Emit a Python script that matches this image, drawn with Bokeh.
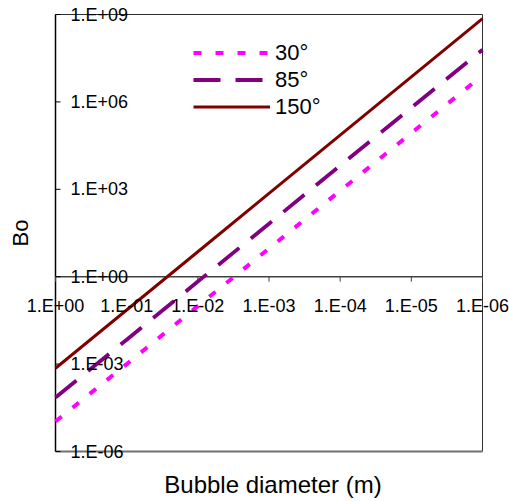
import math
from bokeh.plotting import figure
from bokeh.models import Range1d, Legend, LegendItem
from bokeh.core.properties import value
from bokeh.embed import file_html
from bokeh.resources import INLINE

# ---- data ----
diameter = [1.0, 1e-1, 1e-2, 1e-3, 1e-4, 1e-5, 1e-6]
bo_30 = [1.07e-5, 1.0e-3, 9.8e-2, 9.3, 890, 8.5e4, 8.1e6]
bo_85 = [7.1e-5, 6.9e-3, 0.68, 66, 6.5e3, 6.3e5, 6.2e7]
bo_150 = [7.2e-4, 7.2e-2, 7.2, 720, 7.2e4, 7.2e6, 7.2e8]
series_labels = ["30°", "85°", "150°"]

x_ticks = [1.0, 1e-1, 1e-2, 1e-3, 1e-4, 1e-5, 1e-6]
x_tick_labels = ["1.E+00", "1.E-01", "1.E-02", "1.E-03", "1.E-04", "1.E-05", "1.E-06"]
y_ticks = [1e9, 1e6, 1e3, 1.0, 1e-3, 1e-6]
y_tick_labels = ["1.E+09", "1.E+06", "1.E+03", "1.E+00", "1.E-03", "1.E-06"]
x_title = "Bubble diameter (m)"
y_title = "Bo"

# axis domain (x axis is reversed: large diameters on the left)
X_LEFT, X_RIGHT = 1.0, 1e-6
Y_BOT, Y_TOP = 1e-6, 1e9
X_CROSS = 1.0  # value of Bo where the x axis crosses

# ---- layout (pixels) ----
W, H = 509, 501
FL, FR, FT, FB = 55, 482, 14, 451
FONT = "Liberation Sans"

pxdx = (FR - FL) / math.log10(X_LEFT / X_RIGHT)
pxdy = (FB - FT) / math.log10(Y_TOP / Y_BOT)
x_start = X_LEFT * 10 ** (FL / pxdx)
x_end = X_RIGHT / 10 ** ((W - FR) / pxdx)
y_start = Y_BOT / 10 ** ((H - FB) / pxdy)
y_end = Y_TOP * 10 ** (FT / pxdy)

p = figure(width=W, height=H, x_axis_type="log", y_axis_type="log",
           x_range=Range1d(x_start, x_end), y_range=Range1d(y_start, y_end),
           x_axis_location=None, y_axis_location=None,
           output_backend="svg", toolbar_location=None,
           min_border_left=0, min_border_right=0,
           min_border_top=0, min_border_bottom=0)
p.title.visible = False
p.grid.grid_line_color = None
p.outline_line_color = None
p.background_fill_color = "white"
p.border_fill_color = "white"

# plot-area border
p.segment(x0=[X_LEFT, X_RIGHT], y0=[Y_TOP, Y_BOT], x1=[X_RIGHT, X_RIGHT], y1=[Y_TOP, Y_TOP],
          line_color="#303030", line_width=1)
p.segment(x0=[X_LEFT], y0=[Y_BOT], x1=[X_RIGHT], y1=[Y_BOT],
          line_color="#707070", line_width=2)
# y axis line and x axis line (crossing at Bo = 1)
p.segment(x0=[X_LEFT], y0=[Y_BOT], x1=[X_LEFT], y1=[Y_TOP], line_color="black", line_width=1.5)
p.segment(x0=[X_LEFT], y0=[X_CROSS], x1=[X_RIGHT], y1=[X_CROSS], line_color="#404040", line_width=1.5)

# tick marks
p.ray(x=[X_LEFT] * len(y_ticks), y=y_ticks, length=5, length_units="screen", angle=0,
      line_color="black", line_width=1)
p.ray(x=x_ticks, y=[X_CROSS] * len(x_ticks), length=5, length_units="screen",
      angle=-math.pi / 2, line_color="#404040", line_width=1)

# series
r30 = p.line(diameter, bo_30, line_color="#FF00FF", line_width=4, line_dash="8 14")
r85 = p.line(diameter, bo_85, line_color="#800080", line_width=3.8, line_dash="27 15")
r150 = p.line(diameter, bo_150, line_color="#800000", line_width=3)

# tick labels
p.text(x=[X_LEFT] * len(y_ticks), y=y_ticks, text=y_tick_labels, x_offset=15,
       text_align="left", text_baseline="middle",
       text_font=value(FONT), text_font_size="18px", text_color="black")
p.text(x=x_ticks, y=[X_CROSS] * len(x_ticks), text=x_tick_labels, y_offset=29,
       text_align="center", text_baseline="middle",
       text_font=value(FONT), text_font_size="18px", text_color="black")

# axis titles
x_mid = math.sqrt(X_LEFT * X_RIGHT)
y_mid = math.sqrt(Y_BOT * Y_TOP)
p.text(x=[x_mid], y=[Y_BOT], text=[x_title], x_offset=4, y_offset=33,
       text_align="center", text_baseline="middle",
       text_font=value(FONT), text_font_size="24px", text_color="black")
p.text(x=[X_LEFT], y=[y_mid], text=[y_title], x_offset=-35, angle=math.pi / 2,
       text_align="center", text_baseline="middle",
       text_font=value(FONT), text_font_size="22px", text_color="black")

legend = Legend(items=[LegendItem(label=series_labels[0], renderers=[r30]),
                       LegendItem(label=series_labels[1], renderers=[r85]),
                       LegendItem(label=series_labels[2], renderers=[r150])],
                location=(193, H - 39 - 81), glyph_width=77, glyph_height=27, label_height=27,
                label_standoff=5, spacing=0, padding=0, margin=0,
                border_line_color=None, background_fill_alpha=0,
                label_text_font=FONT, label_text_font_size="22px", label_text_color="black")
p.add_layout(legend)

open("out.html", "w").write(file_html(p, INLINE))
